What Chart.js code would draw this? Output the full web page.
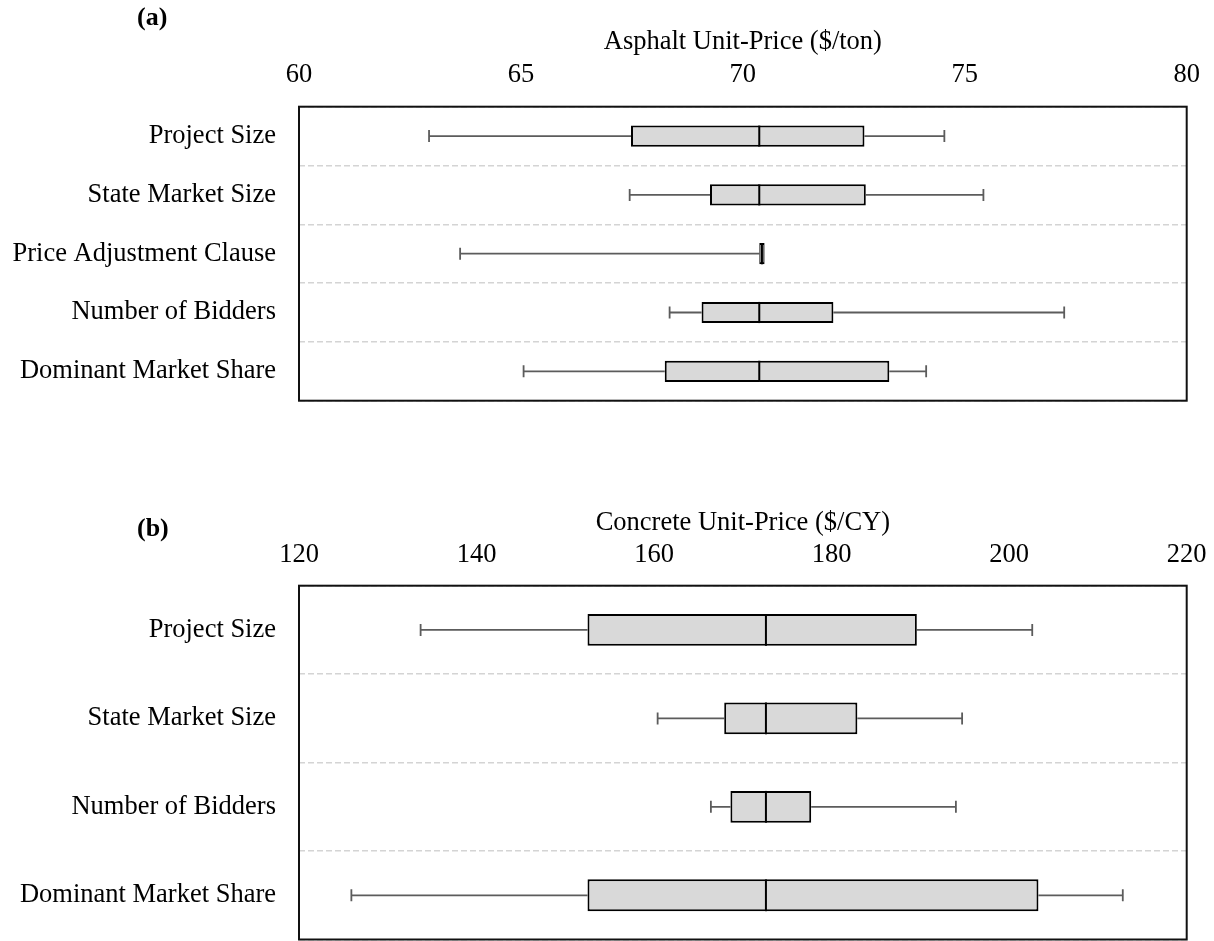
<!DOCTYPE html>
<html>
<head>
<meta charset="utf-8">
<script src="https://cdn.jsdelivr.net/npm/chart.js@4.4.1/dist/chart.umd.min.js"></script>
<style>
  html, body { margin: 0; padding: 0; background: #fff; }
  body { position: relative; width: 1214px; height: 941px; overflow: hidden; font-family: 'Liberation Serif', 'Times New Roman', serif; }
  canvas { position: absolute; left: 0; }
  .tag { position: absolute; left: 137px; font-weight: bold; font-size: 26px; line-height: 26px; color: #000; }
</style>
</head>
<body>
<canvas id="chartA" width="1240" height="446" style="top:0"></canvas>
<canvas id="chartB" width="1240" height="525" style="top:460px"></canvas>
<div class="tag" style="top:4px">(a)</div>
<div class="tag" style="top:515px">(b)</div>
<script>
// (a) asphalt unit price
const labelsA = ['Project Size', 'State Market Size', 'Price Adjustment Clause', 'Number of Bidders', 'Dominant Market Share'];
const lowA  = [62.93, 67.45, 63.63, 68.35, 65.06];
const q1A   = [67.48, 69.26, 70.37, 69.07, 68.24];
const medA  = [70.37, 70.37, 70.43, 70.37, 70.37];
const q3A   = [72.74, 72.77, 70.49, 72.04, 73.30];
const highA = [74.54, 75.42, 70.49, 77.24, 74.13];
const ticksA = [60, 65, 70, 75, 80];

// (b) concrete unit price
const labelsB = ['Project Size', 'State Market Size', 'Number of Bidders', 'Dominant Market Share'];
const lowB  = [133.7, 160.4, 166.4, 125.9];
const q1B   = [152.5, 167.9, 168.6, 152.5];
const medB  = [172.6, 172.6, 172.6, 172.6];
const q3B   = [189.6, 182.9, 177.7, 203.3];
const highB = [202.6, 194.7, 194.0, 212.8];
const ticksB = [120, 140, 160, 180, 200, 220];

const serif = "'Liberation Serif', 'Times New Roman', serif";
const font = { family: serif, size: 26.5 };
Chart.defaults.font.family = serif;
Chart.defaults.color = '#000';

// whiskers under the boxes, median line on top
function boxExtras(low, q1s, med, q3s, high) {
    return {
        id: 'boxExtras',
        beforeDatasetsDraw(chart) {
            const { ctx, scales: { x, y } } = chart;
            ctx.save();
            ctx.strokeStyle = '#5c5c5c';
            ctx.lineWidth = 1.8;
            low.forEach((v, i) => {
                const yc = y.getPixelForValue(i);
                const seg = (from, to) => {
                    if (from === to) return;
                    const a = x.getPixelForValue(from), b = x.getPixelForValue(to);
                    ctx.beginPath();
                    ctx.moveTo(a, yc); ctx.lineTo(b, yc);
                    ctx.moveTo(a, yc - 6); ctx.lineTo(a, yc + 6);
                    ctx.stroke();
                };
                seg(low[i], q1s[i]);
                seg(high[i], q3s[i]);
            });
            ctx.restore();
        },
        afterDatasetsDraw(chart) {
            const { ctx, scales: { x, y } } = chart;
            const bars = chart.getDatasetMeta(0).data;
            ctx.save();
            ctx.strokeStyle = '#000';
            ctx.lineWidth = 2;
            med.forEach((m, i) => {
                const yc = y.getPixelForValue(i);
                const h = bars[i].height / 2;
                const px = x.getPixelForValue(m);
                ctx.beginPath();
                ctx.moveTo(px, yc - h); ctx.lineTo(px, yc + h);
                ctx.stroke();
            });
            ctx.restore();
        }
    };
}

const frame = {
    id: 'frame',
    afterDraw(chart) {
        const { ctx, chartArea: { left, top, right, bottom } } = chart;
        ctx.save();
        ctx.strokeStyle = '#111';
        ctx.lineWidth = 2;
        ctx.strokeRect(left, top, right - left, bottom - top);
        ctx.restore();
    }
};

function boxChart(id, labels, low, q1, med, q3, high, ticks, title, lay) {
    const ctx = document.getElementById(id).getContext('2d');
    const common = {
        backgroundColor: '#d9d9d9',
        borderColor: '#000',
        borderSkipped: false,
        grouped: false,
        categoryPercentage: 1,
        barPercentage: 0.36
    };
    new Chart(ctx, {
        type: 'bar',
        data: {
            labels: labels,
            datasets: [
                Object.assign({ data: labels.map((_, i) => [q1[i], med[i]]), borderWidth: { top: 2, bottom: 2, left: 2, right: 0 } }, common),
                Object.assign({ data: labels.map((_, i) => [med[i], q3[i]]), borderWidth: { top: 2, bottom: 2, left: 0, right: 2 } }, common)
            ]
        },
        options: {
            indexAxis: 'y',
            responsive: false,
            animation: false,
            layout: { padding: { top: 0, left: 0, right: 1240 - 1186.7, bottom: lay.bottom } },
            plugins: { legend: { display: false }, tooltip: { enabled: false } },
            scales: {
                x: {
                    type: 'linear',
                    position: 'top',
                    min: ticks[0],
                    max: ticks[ticks.length - 1],
                    ticks: { stepSize: ticks[1] - ticks[0], padding: lay.tickPad, font: font, color: '#000' },
                    grid: { display: false, drawTicks: false },
                    border: { display: false },
                    title: { display: true, text: title, font: font, color: '#000', padding: { top: lay.titlePad, bottom: 0 } },
                    afterFit(s) { s.height = lay.top; }
                },
                y: {
                    ticks: { padding: 23, font: font, color: '#000' },
                    grid: { color: '#d4d4d4', lineWidth: 1.5, drawTicks: false },
                    border: { display: false, dash: [6, 3] },
                    afterFit(s) { s.width = 299; }
                }
            }
        },
        plugins: [boxExtras(low, q1, med, q3, high), frame]
    });
}

boxChart('chartA', labelsA, lowA, q1A, medA, q3A, highA, ticksA, 'Asphalt Unit-Price ($/ton)',
    { top: 106.7, bottom: 446 - 400.7, tickPad: 15.6, titlePad: 26.5 });
boxChart('chartB', labelsB, lowB, q1B, medB, q3B, highB, ticksB, 'Concrete Unit-Price ($/CY)',
    { top: 125.7, bottom: 525 - 479.5, tickPad: 14.3, titlePad: 47.5 });
</script>
</body>
</html>
